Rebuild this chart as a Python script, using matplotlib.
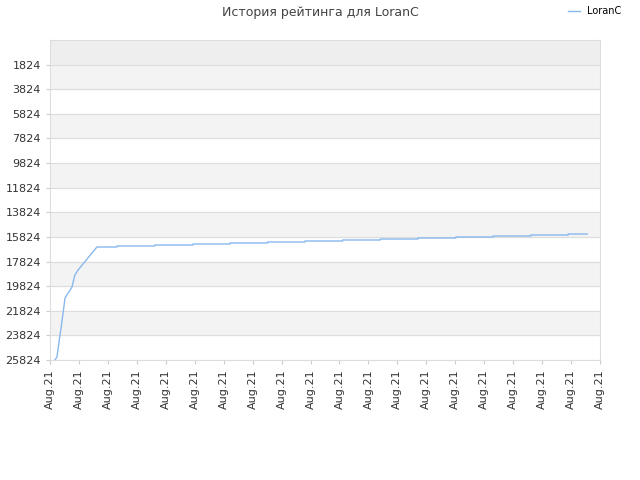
import matplotlib
matplotlib.use("Agg")
import matplotlib.pyplot as plt

title = "История рейтинга для LoranC"
series_name = "LoranC"
x_labels = ["Aug.21"] * 20
y_ticks = [1824, 3824, 5824, 7824, 9824, 11824, 13824, 15824, 17824, 19824, 21824, 23824, 25824]
xs = [0.17, 0.24, 0.41, 0.52, 0.76, 0.86, 0.97, 1.62, 2.31, 2.31, 3.62, 3.62, 4.94, 4.94, 6.22, 6.22,
      7.52, 7.52, 8.81, 8.81, 10.11, 10.11, 11.41, 11.41, 12.71, 12.71, 14.02, 14.02, 15.31, 15.31,
      16.61, 16.61, 17.9, 17.9, 18.56]
ys = [25824, 25580, 22737, 20786, 19893, 18918, 18511, 16643, 16643, 16561, 16561, 16480, 16480, 16399,
      16399, 16318, 16318, 16236, 16236, 16155, 16155, 16074, 16074, 15993, 15993, 15911, 15911, 15830,
      15830, 15749, 15749, 15668, 15668, 15586, 15586]

fig = plt.figure(figsize=(6.4, 4.8), dpi=100)
ax = fig.add_axes([50/640, 120/480, 550/640, 320/480])
ymin, ymax = -176, 25824
ax.set_ylim(ymax, ymin)
ax.set_xlim(0, 19)
ax.axhspan(ymin, 1824, color="#eeeeee", zorder=0)
for i, t in enumerate(y_ticks[:-1]):
    if i % 2 == 0:
        ax.axhspan(t, t + 2000, color="#f3f3f3", zorder=0)
for t in y_ticks:
    ax.axhline(t, color="#dddddd", lw=0.8, zorder=1)
ax.plot(xs, ys, color="#88b8ee", lw=1, label=series_name, zorder=3)
ax.set_yticks(y_ticks)
ax.set_yticklabels([str(t) for t in y_ticks], fontsize=8, color="#333333")
ax.set_xticks(range(20))
ax.set_xticklabels(x_labels, rotation=90, fontsize=8, color="#333333")
for s in ax.spines.values():
    s.set_color("#dddddd")
ax.tick_params(length=3, color="#cccccc")
fig.text(0.5, 0.988, title, ha="center", va="top", fontsize=9, color="#444444")
fig.legend(loc="upper right", bbox_to_anchor=(0.985, 1.005), frameon=False, fontsize=7, handlelength=1.2)
fig.savefig("out.png")
